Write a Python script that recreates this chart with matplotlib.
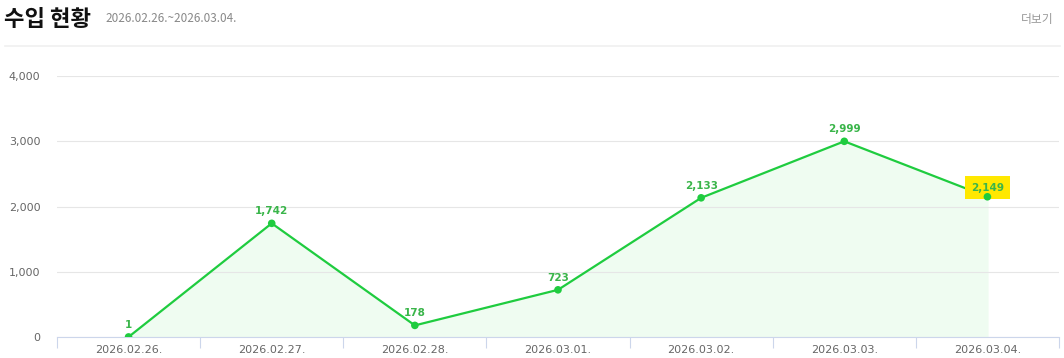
import matplotlib.pyplot as plt
import numpy as np
from matplotlib.ticker import FuncFormatter, FixedLocator

plt.rcParams['font.family'] = ['Noto Sans CJK KR', 'DejaVu Sans']

# 수입 현황 데이터
dates = ['2026.02.26.', '2026.02.27.', '2026.02.28.', '2026.03.01.',
         '2026.03.02.', '2026.03.03.', '2026.03.04.']
values = [1, 1742, 178, 723, 2133, 2999, 2149]
y_ticks = [0, 1000, 2000, 3000, 4000]

line_color = '#1fcc3f'
label_color = '#3ab54a'
fill_color = '#effcf1'
grey = '#666666'

fig = plt.figure(figsize=(10.64, 3.58), dpi=100)
ax = fig.add_axes([57 / 1064, 1 - 337 / 358, 1002 / 1064, 261 / 358])

x = np.arange(len(dates))
ax.fill_between(x, 0, values, color=fill_color, zorder=1)
ax.plot(x, values, color=line_color, lw=1.6, zorder=3)
ax.scatter(x, values, s=30, color=line_color, zorder=6, edgecolors='none')

for i, v in enumerate(values):
    bbox = None
    dy = 5
    if i == len(values) - 1:
        # 마지막 값은 노란 박스로 강조
        bbox = dict(boxstyle='square,pad=0.6', fc='#ffe800', ec='none')
        dy = 3
    ax.annotate(f'{v:,}', (i, v), xytext=(0, dy), textcoords='offset points',
                ha='center', va='bottom', fontsize=7.5, fontweight='bold',
                color=label_color, bbox=bbox, zorder=5, family='DejaVu Sans')

ax.set_xlim(-0.5, len(dates) - 0.5)
ax.set_ylim(0, 4000)
ax.set_yticks(y_ticks)
ax.yaxis.set_major_formatter(FuncFormatter(lambda v, p: f'{int(v):,}'))
ax.grid(axis='y', color='#e6e6e6', lw=0.8, zorder=0)

# 카테고리 경계 눈금 + 가운데 레이블
ax.xaxis.set_major_locator(FixedLocator(np.arange(-0.5, len(dates), 1.0)))
ax.xaxis.set_minor_locator(FixedLocator(x))
ax.set_xticklabels([])
ax.set_xticklabels(dates, minor=True)
ax.tick_params(axis='x', which='major', length=8, color='#ccd6eb', direction='out')
ax.tick_params(axis='x', which='minor', length=0, pad=6, labelsize=8, labelcolor=grey)
ax.tick_params(axis='y', length=0, pad=12, labelsize=8, labelcolor=grey)
for lab in ax.get_xticklabels(minor=True) + ax.get_yticklabels():
    lab.set_family('DejaVu Sans')

for s in ['top', 'right', 'left']:
    ax.spines[s].set_visible(False)
ax.spines['bottom'].set_color('#ccd6eb')

# 상단 헤더
fig.text(4 / 1064, 1 - 20 / 358, '수입 현황', fontsize=16, fontweight='bold',
         color='#111111', va='center', ha='left')
fig.text(105 / 1064, 1 - 19 / 358, '2026.02.26.~2026.03.04.', fontsize=8.5,
         color='#888888', va='center', ha='left')
fig.text(1054 / 1064, 1 - 19 / 358, '더보기', fontsize=8.5,
         color='#999999', va='center', ha='right')
fig.add_artist(plt.Line2D([5 / 1064, 1060 / 1064], [1 - 46 / 358] * 2,
                          color='#f0f0f0', lw=1.2, transform=fig.transFigure))

fig.savefig('out.png', dpi=100)
